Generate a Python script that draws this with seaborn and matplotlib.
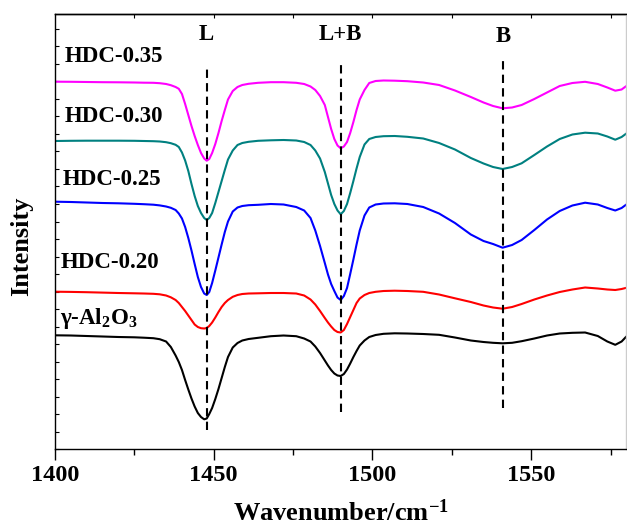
import matplotlib
matplotlib.use('Agg')
import matplotlib.pyplot as plt
from matplotlib.ticker import MultipleLocator, NullFormatter
import seaborn as sns
import pandas as pd

# wavenumbers (cm-1) shared by all spectra
wavenumber = [1400, 1405, 1410, 1415, 1420, 1425, 1428, 1431, 1433, 1435,
              1436.5, 1438, 1439, 1440, 1441, 1442, 1443, 1444, 1445, 1446,
              1447, 1447.8, 1448.6, 1449.5, 1450.5, 1451.5, 1452.5, 1453.5, 1454.5, 1456,
              1457.5, 1459, 1461, 1464, 1468, 1472, 1476, 1478.5, 1480.5, 1482,
              1483.5, 1485, 1486, 1487, 1488, 1489, 1490, 1491, 1492, 1493,
              1494, 1495, 1496, 1497.5, 1499, 1501, 1503.5, 1507, 1511, 1516,
              1521, 1526, 1531, 1535, 1538, 1541, 1544, 1547, 1551, 1555,
              1559, 1563, 1567, 1571, 1574, 1576.5, 1578.5, 1580]

# stacked intensities (a.u.)
hdc_035 = [36.73, 36.72, 36.70, 36.68, 36.67, 36.65, 36.63, 36.62, 36.58, 36.50,
           36.38, 36.20, 36.02, 35.50, 34.50, 33.40, 32.30, 31.30, 30.40, 29.60,
           29.05, 28.83, 29.00, 29.60, 30.50, 31.60, 32.80, 33.90, 34.95, 35.80,
           36.20, 36.40, 36.52, 36.62, 36.68, 36.68, 36.62, 36.50, 36.25, 35.90,
           35.30, 34.40, 33.20, 32.00, 31.00, 30.35, 30.07, 30.25, 30.70, 31.60,
           32.70, 33.90, 34.95, 35.90, 36.60, 36.80, 36.85, 36.83, 36.78, 36.65,
           36.40, 35.85, 35.20, 34.65, 34.30, 34.07, 34.15, 34.40, 35.00, 35.65,
           36.30, 36.60, 36.72, 36.50, 36.15, 35.83, 35.95, 36.30]
hdc_030 = [30.80, 30.82, 30.83, 30.83, 30.83, 30.82, 30.80, 30.78, 30.75, 30.68,
           30.58, 30.42, 30.20, 29.65, 28.85, 27.80, 26.50, 25.30, 24.30, 23.60,
           23.10, 22.90, 23.10, 23.60, 24.60, 25.70, 26.80, 27.90, 28.95, 29.85,
           30.40, 30.60, 30.72, 30.82, 30.87, 30.90, 30.85, 30.70, 30.40, 29.85,
           29.05, 27.70, 26.55, 25.40, 24.50, 23.85, 23.47, 23.80, 24.50, 25.60,
           26.80, 28.05, 29.20, 30.45, 31.00, 31.20, 31.28, 31.30, 31.22, 31.05,
           30.60, 29.95, 29.10, 28.55, 28.20, 28.00, 28.20, 28.57, 29.40, 30.25,
           31.00, 31.45, 31.63, 31.55, 31.25, 30.93, 31.20, 31.55]
hdc_025 = [24.73, 24.70, 24.65, 24.60, 24.57, 24.52, 24.48, 24.43, 24.36, 24.25,
           24.12, 23.90, 23.55, 23.05, 22.20, 21.10, 19.85, 18.50, 17.20, 16.20,
           15.55, 15.40, 15.70, 16.60, 17.85, 19.15, 20.45, 21.70, 22.75, 23.75,
           24.15, 24.30, 24.38, 24.42, 24.50, 24.45, 24.20, 23.85, 23.10, 21.85,
           20.30, 18.60, 17.45, 16.50, 15.80, 15.15, 14.90, 15.30, 16.10, 17.50,
           18.95, 20.45, 21.85, 23.35, 24.15, 24.45, 24.55, 24.57, 24.50, 24.20,
           23.55, 22.60, 21.45, 20.80, 20.50, 20.13, 20.40, 20.90, 21.90, 22.95,
           23.80, 24.35, 24.63, 24.45, 24.10, 23.85, 24.10, 24.45]
hdc_020 = [15.73, 15.71, 15.68, 15.64, 15.60, 15.57, 15.55, 15.52, 15.47, 15.35,
           15.17, 14.90, 14.60, 14.20, 13.80, 13.35, 12.90, 12.45, 12.20, 12.08,
           12.05, 12.10, 12.30, 12.65, 13.15, 13.70, 14.20, 14.60, 14.90, 15.22,
           15.40, 15.50, 15.55, 15.57, 15.60, 15.60, 15.55, 15.35, 14.95, 14.45,
           13.80, 13.10, 12.65, 12.25, 11.90, 11.70, 11.65, 11.90, 12.50, 13.20,
           13.90, 14.60, 15.05, 15.40, 15.60, 15.72, 15.80, 15.83, 15.80, 15.72,
           15.45, 15.07, 14.70, 14.35, 14.15, 14.03, 14.20, 14.50, 14.95, 15.35,
           15.70, 15.95, 16.15, 16.05, 15.95, 15.90, 16.00, 16.12]
al2o3 = [11.37, 11.35, 11.30, 11.25, 11.20, 11.17, 11.13, 11.08, 10.98, 10.75,
         10.20, 9.35, 8.70, 7.90, 6.90, 5.95, 5.05, 4.25, 3.60, 3.20,
         2.97, 3.05, 3.50, 4.10, 5.00, 6.00, 7.10, 8.20, 9.20, 10.15,
         10.60, 10.85, 11.00, 11.12, 11.28, 11.35, 11.28, 11.05, 10.75, 10.25,
         9.60, 8.85, 8.35, 7.90, 7.55, 7.35, 7.30, 7.50, 7.95, 8.55,
         9.20, 9.80, 10.35, 10.85, 11.20, 11.40, 11.52, 11.57, 11.55, 11.50,
         11.42, 11.15, 10.85, 10.70, 10.62, 10.57, 10.62, 10.78, 11.05, 11.35,
         11.55, 11.62, 11.65, 11.30, 10.75, 10.42, 10.75, 11.25]

samples = ['HDC-0.35', 'HDC-0.30', 'HDC-0.25', 'HDC-0.20', 'γ-Al$_2$O$_3$']
series = [hdc_035, hdc_030, hdc_025, hdc_020, al2o3]
colors = ['#FF00FF', '#008080', '#0000FF', '#FF0000', '#000000']

# curve label anchors (left x, centre y)
label_x = [1403.1, 1403.1, 1402.4, 1401.8, 1401.6]
label_y = [39.2, 33.2, 26.9, 18.7, 13.1]

# band assignments
band_names = ['L', 'L+B', 'B']
band_pos = [1447.8, 1490.0, 1541.2]
band_lo = [1.9, 3.7, 4.1]
band_hi = [38.4, 38.4, 38.8]
band_text_y = [41.4, 41.4, 41.2]

sns.set_style('ticks')
plt.rcParams['font.family'] = ['Liberation Serif', 'DejaVu Serif']
plt.rcParams['font.weight'] = 'bold'
plt.rcParams['mathtext.fontset'] = 'custom'
plt.rcParams['mathtext.rm'] = 'Liberation Serif:bold'
plt.rcParams['mathtext.it'] = 'Liberation Serif:bold'
plt.rcParams['mathtext.bf'] = 'Liberation Serif:bold'
plt.rcParams['lines.solid_joinstyle'] = 'round'
# plain black text and ticks instead of seaborn's dark grey
for key in ['text.color', 'axes.labelcolor', 'xtick.color', 'ytick.color',
            'axes.edgecolor']:
    plt.rcParams[key] = 'black'

rows = []
for name, vals in zip(samples, series):
    for w, v in zip(wavenumber, vals):
        rows.append({'wavenumber': w, 'intensity': v, 'sample': name})
df = pd.DataFrame(rows)

fig = plt.figure(figsize=(6.27, 5.28), dpi=100)
ax = fig.add_axes([0.0877, 0.1496, 0.9113, 0.8239])

sns.lineplot(data=df, x='wavenumber', y='intensity', hue='sample',
             palette=dict(zip(samples, colors)), estimator=None, sort=False,
             legend=False, linewidth=1.5, ax=ax)

ax.vlines(band_pos, band_lo, band_hi, colors='black', linestyles=(0, (4, 2.5)),
          linewidth=1.5)
for name, x, y in zip(band_names, band_pos, band_text_y):
    ax.text(x, y, name, ha='center', va='center', fontsize=16.5, fontweight='bold')

for name, x, y in zip(samples, label_x, label_y):
    ax.text(x, y, name, ha='left', va='center', fontsize=16.5, fontweight='bold')

ax.set_xlim(1400, 1580)
ax.set_ylim(0, 43.5)
ax.set_xticks([1400, 1450, 1500, 1550])
ax.xaxis.set_minor_locator(MultipleLocator(25))
ax.yaxis.set_major_locator(MultipleLocator(1.75))
ax.yaxis.set_major_formatter(NullFormatter())
ax.tick_params(axis='x', which='major', direction='out', length=8, width=1,
               labelsize=17.5)
ax.tick_params(axis='x', which='minor', direction='out', length=4, width=1)
ax.tick_params(axis='y', which='major', direction='in', length=3, width=0.8)
for lab in ax.get_xticklabels():
    lab.set_fontweight('bold')

top = ax.secondary_xaxis('top')
top.set_xticks([1425, 1450, 1475, 1500, 1525, 1550, 1575])
top.tick_params(direction='in', length=3, width=0.8, labeltop=False)

for s in ax.spines.values():
    s.set_linewidth(1.0)
    s.set_color('black')
ax.spines['right'].set_color('#cccccc')
for s in top.spines.values():
    s.set_linewidth(1.0)

ax.set_xlabel('Wavenumber/cm$^{-1}$', fontsize=19, fontweight='bold', labelpad=10)
ax.set_ylabel('Intensity', fontsize=19, fontweight='bold')
ax.yaxis.set_label_coords(-0.039, 0.467)

fig.savefig('out.png', dpi=100)
